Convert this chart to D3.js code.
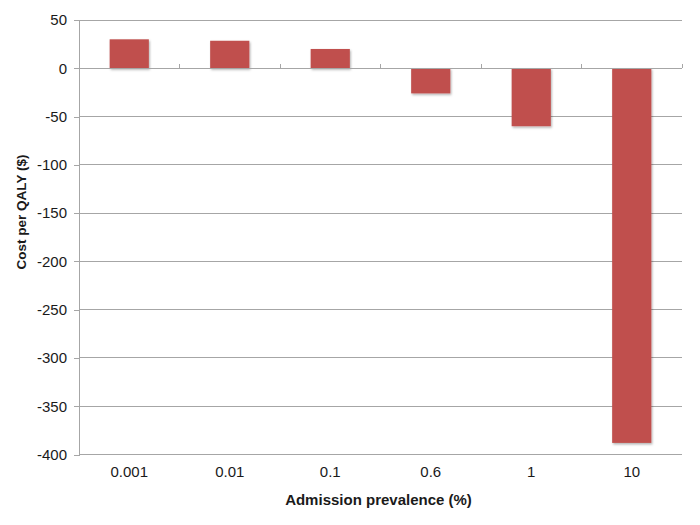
<!DOCTYPE html>
<html>
<head>
<meta charset="utf-8">
<script src="https://cdn.jsdelivr.net/npm/d3@7"></script>
<style>
  body { margin: 0; background: #fff; }
  text { font-family: "Liberation Sans", Arial, sans-serif; fill: #1a1a1a; }
</style>
</head>
<body>
<svg id="chart" width="700" height="525"></svg>
<script>
const categories = ["0.001", "0.01", "0.1", "0.6", "1", "10"];
const values = [30, 28.5, 20, -26, -60, -388];
const yTicks = [50, 0, -50, -100, -150, -200, -250, -300, -350, -400];
const xTitle = "Admission prevalence (%)";
const yTitle = "Cost per QALY ($)";

(function () {
const svg = d3.select("#chart");
const mLeft = 79, mRight = 682, mTop = 20, mBottom = 454.5;

const x = d3.scaleBand().domain(categories).range([mLeft, mRight]).paddingInner(0.61).paddingOuter(0.305);
const xb = d3.scaleBand().domain(categories).range([mLeft, mRight]);
const y = d3.scaleLinear().domain([-400, 50]).range([mBottom, mTop]);

const defs = svg.append("defs");
const f = defs.append("filter").attr("id", "sh").attr("x", "-20%").attr("y", "-20%").attr("width", "150%").attr("height", "150%");
f.append("feDropShadow").attr("dx", 1).attr("dy", 1.5).attr("stdDeviation", 0.8).attr("flood-color", "#000").attr("flood-opacity", 0.3);

// gridlines
svg.append("g").selectAll("line").data(yTicks.filter(d => d !== 0)).join("line")
  .attr("x1", mLeft).attr("x2", mRight)
  .attr("y1", d => y(d)).attr("y2", d => y(d))
  .attr("stroke", "#a6a6a6").attr("stroke-width", 1).attr("shape-rendering", "crispEdges");

// y axis
const yAxis = svg.append("g").attr("transform", `translate(${mLeft},0)`)
  .call(d3.axisLeft(y).tickValues(yTicks).tickSize(5).tickPadding(7).tickFormat(d => String(d)));
yAxis.select(".domain").attr("stroke", "#a6a6a6").attr("shape-rendering", "crispEdges");
yAxis.selectAll(".tick line").attr("stroke", "#a6a6a6").attr("shape-rendering", "crispEdges");
yAxis.selectAll("text").style("font-size", "15px").style("font-family", "Liberation Sans, Arial, sans-serif").attr("fill", "#1a1a1a");

// bars
svg.append("g").selectAll("rect").data(values).join("rect")
  .attr("x", (d, i) => x(categories[i]))
  .attr("width", x.bandwidth())
  .attr("y", d => y(Math.max(0, d)))
  .attr("height", d => Math.abs(y(d) - y(0)))
  .attr("fill", "#c0504d")
  .attr("filter", "url(#sh)");

// zero axis line with category ticks
const zeroG = svg.append("g").attr("transform", `translate(0,${y(0)})`);
zeroG.append("line").attr("x1", mLeft).attr("x2", mRight).attr("y1", 0).attr("y2", 0)
  .attr("stroke", "#a6a6a6").attr("shape-rendering", "crispEdges");
const bounds = categories.map(c => xb(c)).concat([mRight]);
zeroG.selectAll("line.t").data(bounds).join("line").attr("class", "t")
  .attr("x1", d => d).attr("x2", d => d).attr("y1", -4).attr("y2", 0)
  .attr("stroke", "#a6a6a6").attr("shape-rendering", "crispEdges");

// x labels
svg.append("g").selectAll("text").data(categories).join("text")
  .attr("x", d => xb(d) + xb.bandwidth() / 2)
  .attr("y", 477)
  .attr("text-anchor", "middle")
  .style("font-size", "15px")
  .text(d => d);

// titles
svg.append("text").attr("x", (mLeft + mRight) / 2 - 2).attr("y", 505)
  .attr("text-anchor", "middle").style("font-size", "15px").style("font-weight", "bold")
  .text(xTitle);
svg.append("text").attr("transform", "translate(26,212) rotate(-90)")
  .attr("text-anchor", "middle").style("font-size", "13.5px").style("font-weight", "bold")
  .text(yTitle);
})();
</script>
</body>
</html>
